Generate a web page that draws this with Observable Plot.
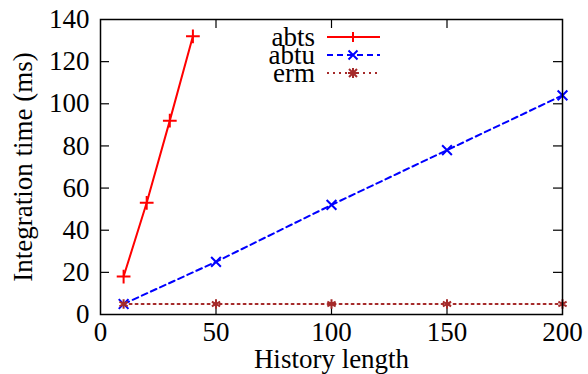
<!DOCTYPE html>
<html><head><meta charset="utf-8">
<script src="https://cdn.jsdelivr.net/npm/d3@7"></script>
<script src="https://cdn.jsdelivr.net/npm/@observablehq/plot@0.6"></script>
<style>
body{margin:0;background:#fff}
</style>
</head><body><div id="chart"></div>
<script>
const seriesNames = ["abts", "abtu", "erm"];
const abtsX = [10, 20, 30, 40];
const abtsY = [18, 53, 92, 132];
const abtuX = [10, 50, 100, 150, 200];
const abtuY = [5, 25, 52, 78, 104];
const ermX = [10, 50, 100, 150, 200];
const ermY = [5, 5, 5, 5, 5];
const xTicks = [0, 50, 100, 150, 200];
const yTicks = [0, 20, 40, 60, 80, 100, 120, 140];

const colors = {abts: "#ff0000", abtu: "#0000ff", erm: "#a52a2a"};
const dashes = {abts: null, abtu: "6,4", erm: "2,4"};
const symbols = {abts: "plus", abtu: "times", erm: "asterisk"};

const toRows = (name, xs, ys) => xs.map((x, i) => ({series: name, x, y: ys[i]}));
const data = {
  abts: toRows("abts", abtsX, abtsY),
  abtu: toRows("abtu", abtuX, abtuY),
  erm: toRows("erm", ermX, ermY)
};

const W = 588, H = 374;
const mL = 100, mR = 26, mT = 19, mB = 60;
const pw = W - mL - mR, ph = H - mT - mB;
const tl = 9;
const FS = 27;
const FONT = "'Liberation Serif', 'Times New Roman', serif";

const marks = [];
const innerX = xTicks.slice(1, -1), innerY = yTicks.slice(1, -1);
marks.push(Plot.tickX(innerX, {x: d => d, stroke: "black", strokeWidth: 1.2, insetTop: ph - tl}));
marks.push(Plot.tickX(innerX, {x: d => d, stroke: "black", strokeWidth: 1.2, insetBottom: ph - tl}));
marks.push(Plot.tickY(innerY, {y: d => d, stroke: "black", strokeWidth: 1.2, insetRight: pw - tl}));
marks.push(Plot.tickY(innerY, {y: d => d, stroke: "black", strokeWidth: 1.2, insetLeft: pw - tl}));

for (const s of seriesNames) {
  marks.push(Plot.line(data[s], {x: "x", y: "y", stroke: colors[s], strokeWidth: 2, strokeDasharray: dashes[s]}));
  marks.push(Plot.dot(data[s], {x: "x", y: "y", stroke: colors[s], symbol: () => symbols[s], r: 4.5, strokeWidth: 2}));
}
marks.push(Plot.frame({stroke: "black", strokeWidth: 1.5}));

const chart = Plot.plot({
  width: W, height: H,
  marginLeft: mL, marginRight: mR, marginTop: mT, marginBottom: mB,
  style: {color: "black", background: "white"},
  x: {domain: [0, 200], ticks: xTicks, tickSize: 0, tickPadding: 7, label: "History length", labelAnchor: "center", labelOffset: 53, labelArrow: "none"},
  y: {domain: [0, 140], ticks: yTicks, tickSize: 0, tickPadding: 11, label: "Integration time (ms)", labelAnchor: "center", labelOffset: 88, labelArrow: "none"},
  symbol: {type: "identity"},
  marks
});
document.getElementById("chart").appendChild(chart);

// legend inside the plot area
const svg = d3.select(chart);
const lg = svg.append("g");
const symMap = {plus: "M-5,0H5M0,-5V5", times: "M-4.5,-4.5L4.5,4.5M-4.5,4.5L4.5,-4.5", asterisk: "M-5,0H5M0,-5V5M-4,-4L4,4M-4,4L4,-4"};
seriesNames.forEach((s, i) => {
  const cy = 37 + i * 18;
  lg.append("text").attr("x", 315).attr("y", cy).attr("dy", "0.32em").attr("text-anchor", "end").text(s);
  lg.append("line").attr("x1", 327).attr("x2", 380).attr("y1", cy).attr("y2", cy)
    .attr("stroke", colors[s]).attr("stroke-width", 2).attr("stroke-dasharray", dashes[s]);
  lg.append("path").attr("d", symMap[symbols[s]]).attr("transform", `translate(353,${cy})`)
    .attr("stroke", colors[s]).attr("stroke-width", 2).attr("fill", "none");
});
chart.setAttribute("font-family", FONT);
chart.style.fontFamily = FONT;
chart.querySelectorAll("text, g").forEach(t => {
  t.setAttribute("font-family", FONT);
  t.style.fontFamily = FONT;
  t.setAttribute("font-size", FS);
  t.style.fontSize = FS + "px";
});
</script></body></html>
